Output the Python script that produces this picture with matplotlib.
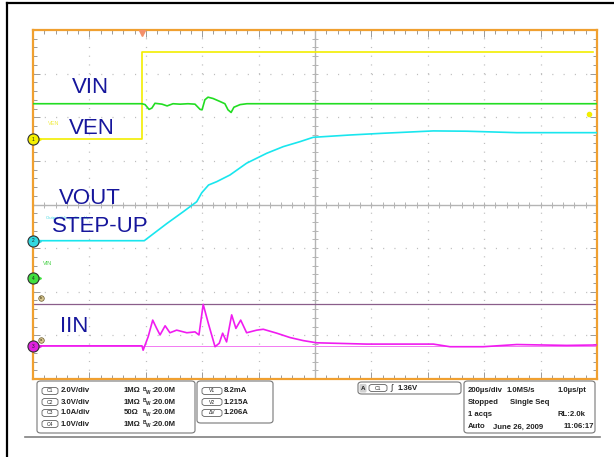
import matplotlib.pyplot as plt
import numpy as np
from matplotlib.lines import Line2D
from matplotlib.patches import FancyBboxPatch

plt.rcParams["font.family"] = ["Liberation Sans", "DejaVu Sans"]
plt.rcParams["lines.scale_dashes"] = False

W, H = 614, 457

# timebase: 200 us/div, 10 divisions, trigger about 1.93 div from the left
T_LEFT = -386.5
T_DIV = 200.0

# channel settings (units/div, ground position in divisions from centre)
SCALE = {"1": 2.0, "2": 3.0, "3": 1.0, "4": 1.0}
OFFSET = {"1": 1.49, "2": -0.83, "3": -3.25, "4": -1.69}

# C1 - VEN (V)
VEN_T = [-386.5, 0, 0, 1600]
VEN_V = [0.0, 0.0, 4.0, 4.0]

# C4 - VIN (V)
VIN_T = [-386.5, 0, 11, 25, 35, 46, 71, 89, 110, 135, 163, 188, 206, 213, 223,
         234, 252, 277, 294, 305, 316, 326, 348, 372, 1613.5]
VIN_V = [4.0, 4.0, 3.98, 3.87, 3.90, 4.01, 3.99, 3.95, 4.0, 3.99, 4.0, 3.99, 3.87,
         3.86, 4.09, 4.15, 4.12, 4.05, 4.0, 3.86, 3.80, 3.92, 3.98, 4.0, 4.0]

# C2 - VOUT step-up (V)
VOUT_T = [-386.5, 8, 88, 146, 194, 212, 236, 265, 312, 371, 442, 501, 560, 607,
          738, 856, 1033, 1152, 1329, 1506, 1613.5]
VOUT_V = [0.0, 0.0, 1.18, 1.99, 2.68, 3.30, 3.83, 4.06, 4.52, 5.33, 6.01, 6.47,
          6.81, 7.11, 7.27, 7.39, 7.55, 7.53, 7.43, 7.43, 7.43]

# C3 - IIN (A)
IIN_T = [-386.5, 0, 4, 22, 38, 52, 64, 82, 99, 123, 159, 188, 202, 217, 235, 259,
         274, 286, 300, 318, 333, 350, 371, 407, 430, 478, 525, 572, 619, 678, 797,
         1033, 1092, 1210, 1329, 1506, 1613.5]
IIN_A = [0.01, 0.01, -0.09, 0.22, 0.60, 0.41, 0.26, 0.47, 0.31, 0.37, 0.31, 0.33,
         0.26, 0.96, 0.53, -0.01, 0.07, 0.30, 0.10, 0.72, 0.41, 0.60, 0.31, 0.37,
         0.39, 0.30, 0.20, 0.13, 0.08, 0.07, 0.05, 0.05, -0.01, -0.01, 0.04, 0.02, 0.03]

# cursors on C3 (A)
CURSOR_A = 0.008
CURSOR_B = 0.98
TRIG_LEVEL = 1.15

CH_SETTINGS = [("C1", "2.0V/div", "1MΩ"), ("C2", "3.0V/div", "1MΩ"),
               ("C3", "1.0A/div", "50Ω"), ("C4", "1.0V/div", "1MΩ")]
CURSOR_TEXT = [("V1", "8.2mA"), ("V2", "1.215A"), ("ΔV", "1.206A")]

YELLOW = "#f2ee00"
GREEN = "#22dd22"
CYAN = "#19e6ee"
MAGENTA = "#f01cf0"
NAVY = "#16169c"


def div(ch, values):
    return np.asarray(values) / SCALE[ch] + OFFSET[ch]


def fbox(x0, y0, x1, y1, r=0.006, fc="white", ec="#777777", lw=0.8):
    p = FancyBboxPatch((x0 / W, 1 - y1 / H), (x1 - x0) / W, (y1 - y0) / H,
                       boxstyle=f"round,pad=0,rounding_size={r}", transform=fig.transFigure,
                       fc=fc, ec=ec, lw=lw)
    fig.add_artist(p)


def ftext(x, y, s, **kw):
    kw.setdefault("fontsize", 5.6)
    kw.setdefault("fontweight", "bold")
    kw.setdefault("va", "center")
    kw.setdefault("color", "#222222")
    fig.text(x / W, 1 - y / H, s, **kw)


def oval(xc, yc, s, w=16):
    fbox(xc - w / 2, yc - 3.5, xc + w / 2, yc + 3.5, r=0.005, ec="#606060", lw=0.6)
    ftext(xc, yc, s, fontsize=3.6, ha="center", fontweight="normal")


fig = plt.figure(figsize=(W / 100, H / 100), dpi=100)
ax = fig.add_axes([33 / W, 1 - 379 / H, 564 / W, 349 / H])
ax.set_xlim(T_LEFT, T_LEFT + 10 * T_DIV)
ax.set_ylim(-4, 4)

major_x = T_LEFT + np.arange(11) * T_DIV
minor_x = T_LEFT + np.arange(51) * T_DIV / 5
minor_y = np.arange(-4, 4.01, 0.2)
ax.set_xticks(major_x)
ax.set_xticks(minor_x, minor=True)
ax.set_yticks(np.arange(-4, 5))
ax.set_yticks(minor_y, minor=True)
ax.tick_params(which="both", direction="in", top=True, right=True,
               labelbottom=False, labelleft=False, color="#9a9a9a", width=0.7)
ax.tick_params(which="major", length=5)
ax.tick_params(which="minor", length=3)
for sp in ax.spines.values():
    sp.set_color("#f0a030")
    sp.set_linewidth(1.6)

ax.xaxis.grid(True, which="major", color="#bdbdbd", lw=0.9, ls=(0, (0.8, 5.48)))
ax.yaxis.grid(True, which="major", color="#bdbdbd", lw=0.9, ls=(0, (0.8, 7.32)))
ax.set_axisbelow(True)

# centre crosshair with minor ticks
xc = T_LEFT + 5 * T_DIV
ax.axhline(0, color="#b4b4b4", lw=1.0, zorder=1)
ax.axvline(xc, color="#b4b4b4", lw=1.0, zorder=1)
ax.plot(minor_x, np.zeros_like(minor_x), ls="none", marker="|", ms=4, mew=0.7,
        color="#b4b4b4", zorder=1)
ax.plot(np.full_like(minor_y, xc), minor_y, ls="none", marker="_", ms=4, mew=0.7,
        color="#b4b4b4", zorder=1)

# cursors
ax.axhline(div("3", CURSOR_B), color="#8a5e8a", lw=0.9, zorder=2)
ax.axhline(div("3", CURSOR_A), color="#f27af2", lw=0.7, zorder=2)

# traces
ax.plot(VEN_T, div("1", VEN_V), color=YELLOW, lw=1.2, zorder=3)
ax.plot(VIN_T, div("4", VIN_V), color=GREEN, lw=1.2, zorder=3)
ax.plot(VOUT_T, div("2", VOUT_V), color=CYAN, lw=1.2, zorder=3)
ax.plot(IIN_T, div("3", IIN_A), color=MAGENTA, lw=1.2, zorder=3)

# channel ground markers
for ch, col in [("1", "#f4f000"), ("2", "#30d8e0"), ("4", "#40e040"), ("3", "#e020e0")]:
    y = OFFSET[ch]
    ax.plot(T_LEFT + 0.09 * T_DIV, y, ">", ms=4, color=col, clip_on=False, zorder=9)
    ax.plot(T_LEFT, y, "o", ms=8, mfc=col, mec="#303030", mew=0.8, clip_on=False, zorder=10)
    ax.text(T_LEFT, y, ch, fontsize=3.5, ha="center", va="center", color="#202020", zorder=11)

# cursor tags a / b
for tag, val in [("b", CURSOR_B + 0.12), ("a", CURSOR_A + 0.14)]:
    ax.plot(T_LEFT + 0.14 * T_DIV, div("3", val), "o", ms=4, mfc="#d8c890", mec="#6a5a30",
            mew=0.5, zorder=6)
    ax.text(T_LEFT + 0.14 * T_DIV, div("3", val), tag, fontsize=3, ha="center", va="center",
            color="#3a3010", zorder=7)

# trigger position and level markers
ax.plot(0, 3.93, "v", ms=5, color="#f4906a", clip_on=False, zorder=10)
ax.plot(T_LEFT + 9.85 * T_DIV, div("1", TRIG_LEVEL), "o", ms=3, color=YELLOW, zorder=10)

# small channel labels
ax.text(0.027, 0.731, "VEN", transform=ax.transAxes, fontsize=4, color="#f0ec40", va="center")
ax.text(0.023, 0.461, "Output Voltage Step Up", transform=ax.transAxes, fontsize=3,
        color="#40d8e0", va="center")
ax.text(0.018, 0.332, "VIN", transform=ax.transAxes, fontsize=4, color="#40d040", va="center")

# large annotations
for s, x, y in [("VIN", 0.069, 0.836), ("VEN", 0.064, 0.719), ("VOUT", 0.046, 0.516),
                ("STEP-UP", 0.034, 0.438), ("IIN", 0.047, 0.149)]:
    ax.text(x, y, s, transform=ax.transAxes, fontsize=16, color=NAVY, va="center", zorder=12)

# outer frame (left and top)
fig.add_artist(Line2D([7 / W, 7 / W], [0, 1 - 3 / H], color="black", lw=1.6,
                      transform=fig.transFigure))
fig.add_artist(Line2D([7 / W, 1], [1 - 3 / H, 1 - 3 / H], color="black", lw=1.6,
                      transform=fig.transFigure))

# readout panel
fbox(37, 381, 195, 433)
for i, (c, vd, imp) in enumerate(CH_SETTINGS):
    y = 391 + i * 11
    oval(50, y, c)
    ftext(61, y, vd)
    ftext(124, y, imp)
    ftext(143, y - 1.6, "B", fontsize=3.4)
    ftext(145.5, y + 1.4, "W", fontsize=3.4)
    ftext(151, y, ":20.0M")

fbox(197, 381, 273, 423)
for i, (c, val) in enumerate(CURSOR_TEXT):
    y = 391 + i * 11
    oval(212, y, c, w=20)
    ftext(224, y, val)

fbox(358, 382, 461, 394)
fbox(360, 384.5, 366, 392, r=0.002, fc="#d0d0d0", ec="#d0d0d0")
ftext(363, 388, "A", ha="center", fontsize=4.5)
oval(378, 388, "C1", w=18)
ftext(390, 388.5, "∫", fontsize=6, fontweight="normal")
ftext(398, 388, "1.36V")

fbox(464, 381, 595, 433)
for y, items in [(390, [(468, "200µs/div"), (507, "1.0MS/s"), (558, "1.0µs/pt")]),
                 (403, [(468, "Stopped"), (510, "Single Seq")]),
                 (415, [(468, "1 acqs"), (558, "RL:2.0k")]),
                 (427, [(468, "Auto"), (493, "June 26, 2009"), (564, "11:06:17")])]:
    for x, s in items:
        ftext(x, y, s)

fig.add_artist(Line2D([25 / W, 600 / W], [1 - 437 / H] * 2, color="#808080", lw=1.2,
                      transform=fig.transFigure))

fig.savefig("out.png", dpi=100)
